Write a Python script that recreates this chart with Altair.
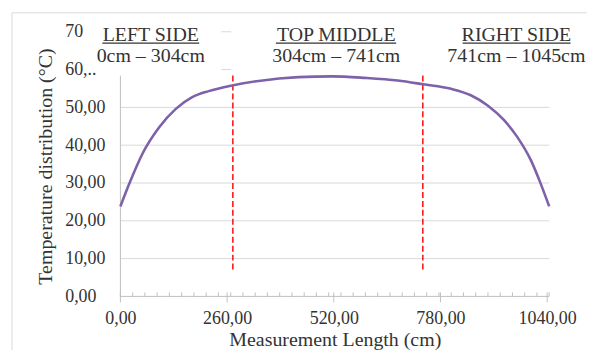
import altair as alt
import pandas as pd

# ---- data ----
length_cm = [0, 22, 54, 95, 135, 175, 215, 272, 337, 434, 515, 596, 676, 738,
             806, 854, 895, 935, 967, 1000, 1024, 1045]
temperature = [23.8, 29.9, 37.8, 44.8, 49.6, 52.7, 54.3, 55.8, 57.0, 58.0, 58.2,
               57.8, 57.1, 56.1, 54.9, 53.2, 50.5, 46.6, 42.2, 36.1, 29.9, 23.8]

boundaries_cm = [274, 737]
boundary_lo, boundary_hi = 7.1, 58.9

x_ticks = [0, 260, 520, 780, 1040]
y_ticks = [0, 10, 20, 30, 40, 50, 60, 70]
y_grid = [10, 20, 30, 40, 50]
minor_step = 1045 / 35
minor_ticks = [i * minor_step for i in range(36)]

section_titles = ["LEFT SIDE", "TOP MIDDLE", "RIGHT SIDE"]
section_ranges = ["0cm \u2013 304cm", "304cm \u2013 741cm", "741cm \u2013 1045cm"]
section_center = [74, 526, 965]
underline_start = [-44, 379, 834]
underline_end = [192, 672, 1097]

FONT = "Liberation Serif"
TXT = "#333333"
W, H = 431, 266

xs = alt.Scale(domain=[0, 1045], nice=False, zero=False)
ys = alt.Scale(domain=[0, 70], nice=False, zero=False)
XT = "Measurement Length (cm)"
YT = "Temperature distribution (\u00b0C)"

XA = alt.Axis(values=x_ticks, grid=False, domain=False, ticks=False, tickSize=0,
              labelFlush=False, labelOverlap=False,
              labelExpr="replace(format(datum.value, '.2f'), '.', ',')",
              labelFont=FONT, labelFontSize=18, labelColor=TXT,
              labelBaseline="alphabetic", labelPadding=27,
              titleFont=FONT, titleFontSize=20, titleFontWeight="normal",
              titleColor=TXT, titleBaseline="alphabetic", titleY=49)
YA = alt.Axis(values=y_ticks, grid=False, domain=False, ticks=False, tickSize=0,
              labelFlush=False, labelOverlap=False,
              labelExpr="datum.value == 70 ? '70' : datum.value == 60 ? '60,..' : replace(format(datum.value, '.2f'), '.', ',')",
              labelFont=FONT, labelFontSize=18, labelColor=TXT,
              labelAlign="left", labelBaseline="middle", labelPadding=56,
              titleFont=FONT, titleFontSize=20, titleFontWeight="normal",
              titleColor=TXT, titleAngle=-90, titleAlign="center",
              titleBaseline="alphabetic", titleX=-69, titleY=135)


def X(f):
    return alt.X(f, type="quantitative", scale=xs, axis=XA, title=XT)


def Y(f):
    return alt.Y(f, type="quantitative", scale=ys, axis=YA, title=YT)


one = pd.DataFrame({"a": [0]})

# frame (top and left edges of the chart border)
frame_top = alt.Chart(one).mark_rule(color="#d9d9d9", strokeWidth=1).encode(
    x=alt.value(-109), x2=alt.value(W + 38), y=alt.value(-19))
frame_left = alt.Chart(one).mark_rule(color="#d9d9d9", strokeWidth=1).encode(
    x=alt.value(-109), y=alt.value(-19), y2=alt.value(H + 60))

grid = alt.Chart(pd.DataFrame({"y": y_grid})).mark_rule(color="#d9d9d9", strokeWidth=1).encode(
    y=Y("y"))

frag = alt.Chart(pd.DataFrame({"y": [60, 70], "x0": [246, 246], "x1": [270, 270]})).mark_rule(
    color="#d9d9d9", strokeWidth=1).encode(x=X("x0"), x2="x1", y=Y("y"))

x_line = alt.Chart(pd.DataFrame({"y": [0]})).mark_rule(color="#bfbfbf", strokeWidth=1).encode(
    y=Y("y"))
y_line = alt.Chart(pd.DataFrame({"x": [0], "y0": [0], "y1": [58.4]})).mark_rule(
    color="#bfbfbf", strokeWidth=1).encode(x=X("x"), y=Y("y0"), y2="y1")

minor = alt.Chart(pd.DataFrame({"x": minor_ticks})).mark_rule(color="#bfbfbf", strokeWidth=1).encode(
    x=X("x"), y=alt.value(H), y2=alt.value(H - 4))
major = alt.Chart(pd.DataFrame({"x": x_ticks})).mark_rule(color="#bfbfbf", strokeWidth=1).encode(
    x=X("x"), y=alt.value(H - 4), y2=alt.value(H + 6))

red = alt.Chart(pd.DataFrame({"x": boundaries_cm, "y0": [boundary_lo] * 2,
                              "y1": [boundary_hi] * 2})).mark_rule(
    color="#ff1a1a", strokeWidth=1.6, strokeDash=[6, 3]).encode(
    x=X("x"), y=Y("y0"), y2="y1")

curve = alt.Chart(pd.DataFrame({"x": length_cm, "y": temperature})).mark_line(
    color="#7E62A9", strokeWidth=2.6, interpolate="monotone").encode(x=X("x"), y=Y("y"))

sec = pd.DataFrame({"title": section_titles, "range": section_ranges, "cx": section_center,
                    "u0": underline_start, "u1": underline_end,
                    "ty": [67.6] * 3, "ry": [61.9] * 3, "uy": [67.0] * 3})

titles = alt.Chart(sec).mark_text(font=FONT, fontSize=20, color=TXT, baseline="alphabetic",
                                  align="center").encode(x=X("cx"), y=Y("ty"), text="title:N")
ranges = alt.Chart(sec).mark_text(font=FONT, fontSize=20, color=TXT, baseline="alphabetic",
                                  align="center").encode(x=X("cx"), y=Y("ry"), text="range:N")
underlines = alt.Chart(sec).mark_rule(color=TXT, strokeWidth=1.2).encode(
    x=X("u0"), x2="u1", y=Y("uy"))

chart = alt.layer(
    frame_top, frame_left, grid, frag, x_line, y_line, minor, major, red, curve,
    titles, ranges, underlines
).properties(
    width=W, height=H,
    padding={"left": 113, "top": 23, "right": 38, "bottom": 53},
    autosize=alt.AutoSizeParams(type="none"),
).configure_view(stroke=None)

chart.save("out.html", embed_options={"renderer": "svg", "actions": False})
